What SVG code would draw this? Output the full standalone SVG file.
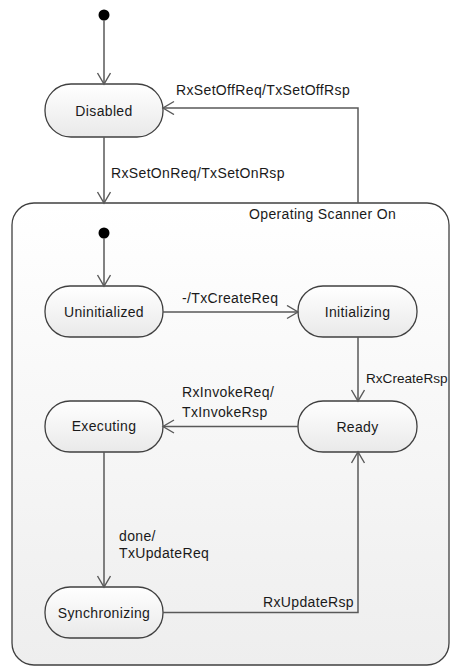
<svg xmlns="http://www.w3.org/2000/svg" width="451" height="666" viewBox="0 0 451 666">
<style>
.st{stroke:#404040;stroke-width:1.3;}
.nd{fill:url(#ng);}
.ln{fill:none;stroke:#595959;stroke-width:1.5;}
text{font-family:"Liberation Sans",Arial,sans-serif;font-size:14px;letter-spacing:0.35px;fill:#1a1a1a;}
.c{text-anchor:middle;}
.tight{letter-spacing:0;font-size:13.6px;}
</style>
<defs>
<linearGradient id="ng" x1="0" y1="0" x2="0" y2="1">
<stop offset="0" stop-color="#ffffff"/>
<stop offset="1" stop-color="#e9e9e9"/>
</linearGradient>
<linearGradient id="cg" x1="0" y1="0" x2="0" y2="1">
<stop offset="0" stop-color="#ffffff"/>
<stop offset="1" stop-color="#eeeeee"/>
</linearGradient>
<marker id="ah" markerWidth="14" markerHeight="16" refX="12" refY="7" orient="auto" markerUnits="userSpaceOnUse">
<path d="M1,0.5 L12,7 L1,13.5" fill="none" stroke="#595959" stroke-width="1.4"/>
</marker>
</defs>
<g id="container">
<rect x="12" y="203" width="437" height="462" rx="22" fill="url(#cg)" class="st"/>
<text x="249" y="219">Operating Scanner On</text>
</g>
<g id="init-top">
<circle cx="104" cy="15" r="5.5" fill="#000"/>
</g>
<g id="init-inner">
<circle cx="104" cy="233" r="5.5" fill="#000"/>
</g>
<g id="disabled">
<rect x="45" y="84" width="118" height="53" rx="26" class="st nd"/>
<text x="104" y="116" class="c">Disabled</text>
</g>
<g id="uninitialized">
<rect x="45" y="286" width="118" height="51" rx="25" class="st nd"/>
<text x="104" y="317" class="c">Uninitialized</text>
</g>
<g id="initializing">
<rect x="298" y="286" width="119" height="51" rx="25" class="st nd"/>
<text x="357.5" y="317" class="c">Initializing</text>
</g>
<g id="executing">
<rect x="45" y="401" width="118" height="51" rx="25" class="st nd"/>
<text x="104" y="431" class="c">Executing</text>
</g>
<g id="ready">
<rect x="298" y="401" width="119" height="51" rx="25" class="st nd"/>
<text x="357.5" y="432" class="c">Ready</text>
</g>
<g id="synchronizing">
<rect x="45" y="587" width="118" height="51" rx="25" class="st nd"/>
<text x="104" y="618" class="c">Synchronizing</text>
</g>
<g id="connectors">
<path class="ln" d="M104,20 V84" marker-end="url(#ah)"/>
<path class="ln" d="M104,137 V203" marker-end="url(#ah)"/>
<path class="ln" d="M358,203 V108 H163" marker-end="url(#ah)"/>
<path class="ln" d="M104,238 V286" marker-end="url(#ah)"/>
<path class="ln" d="M163,312 H298" marker-end="url(#ah)"/>
<path class="ln" d="M358,337 V401" marker-end="url(#ah)"/>
<path class="ln" d="M298,426.5 H163" marker-end="url(#ah)"/>
<path class="ln" d="M104,452 V587" marker-end="url(#ah)"/>
<path class="ln" d="M163,612.5 H358 V452" marker-end="url(#ah)"/>
<text x="176" y="95">RxSetOffReq/TxSetOffRsp</text>
<text x="111" y="178">RxSetOnReq/TxSetOnRsp</text>
<text x="182" y="303">-/TxCreateReq</text>
<text x="366" y="383" class="tight">RxCreateRsp</text>
<text x="182" y="397">RxInvokeReq/</text>
<text x="182" y="417">TxInvokeRsp</text>
<text x="119" y="541">done/</text>
<text x="119" y="558">TxUpdateReq</text>
<text x="263" y="607">RxUpdateRsp</text>
</g>
</svg>
